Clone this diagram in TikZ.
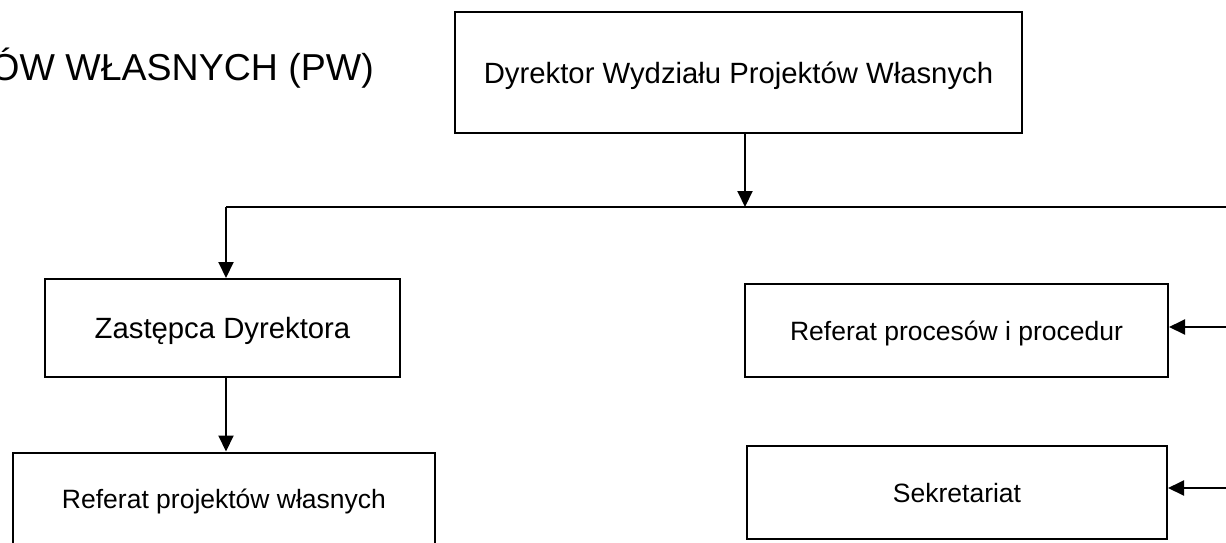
\documentclass[tikz,border=0pt]{standalone}
\usepackage{fontspec}
\setmainfont{Liberation Sans}
\usetikzlibrary{arrows.meta}
\begin{document}
\begin{tikzpicture}[x=1pt,y=-1pt,
  box/.style={draw=black,line width=2pt,rectangle,inner sep=0pt,align=center,text depth=0pt},
  bigtxt/.style={font=\fontsize{29.3}{34}\selectfont,text height=21pt},
  smalltxt/.style={font=\fontsize{26.5}{31}\selectfont,text height=19pt},
  arr/.style={line width=2pt,-{Triangle[length=16pt,width=15pt]}},
  hline/.style={line width=1.3pt}]
\useasboundingbox (0,0) rectangle (1226,542);
% title (cut at left edge)
\node[anchor=base east,inner sep=0pt,font=\fontsize{37.5}{45}\selectfont] (title) at (374,80) {ÓW WŁASNYCH (PW)};
% boxes
\node[box,bigtxt,minimum width=567pt,minimum height=121pt] (dyr) at (738.5,72.5) {Dyrektor Wydziału Projektów Własnych};
\node[box,bigtxt,minimum width=355pt,minimum height=98pt] (zast) at (222.5,328) {Zastępca Dyrektora};
\node[box,smalltxt,minimum width=422pt,minimum height=93pt] (refpw) at (224,499) {Referat projektów własnych};
\node[box,smalltxt,minimum width=423pt,minimum height=93pt] (rpp) at (956.5,330.5) {Referat procesów i procedur};
\node[box,smalltxt,minimum width=420pt,minimum height=93pt] (sek) at (957,492.5) {Sekretariat};
% connectors
\coordinate (j) at (745,207);
\coordinate (hl) at (226,207);
\coordinate (hr) at (1232,207);
\coordinate (r1) at (1232,327);
\coordinate (r2) at (1232,488);
\draw[hline] (hl) -- (hr);
\draw[arr] (dyr.south -| j) -- (j);
\draw[arr] (hl) -- (zast.north -| hl);
\draw[arr] (zast.south -| hl) -- (refpw.north -| hl);
\draw[arr] (r1) -- (rpp.east |- r1);
\draw[arr] (r2) -- (sek.east |- r2);
\end{tikzpicture}
\end{document}
